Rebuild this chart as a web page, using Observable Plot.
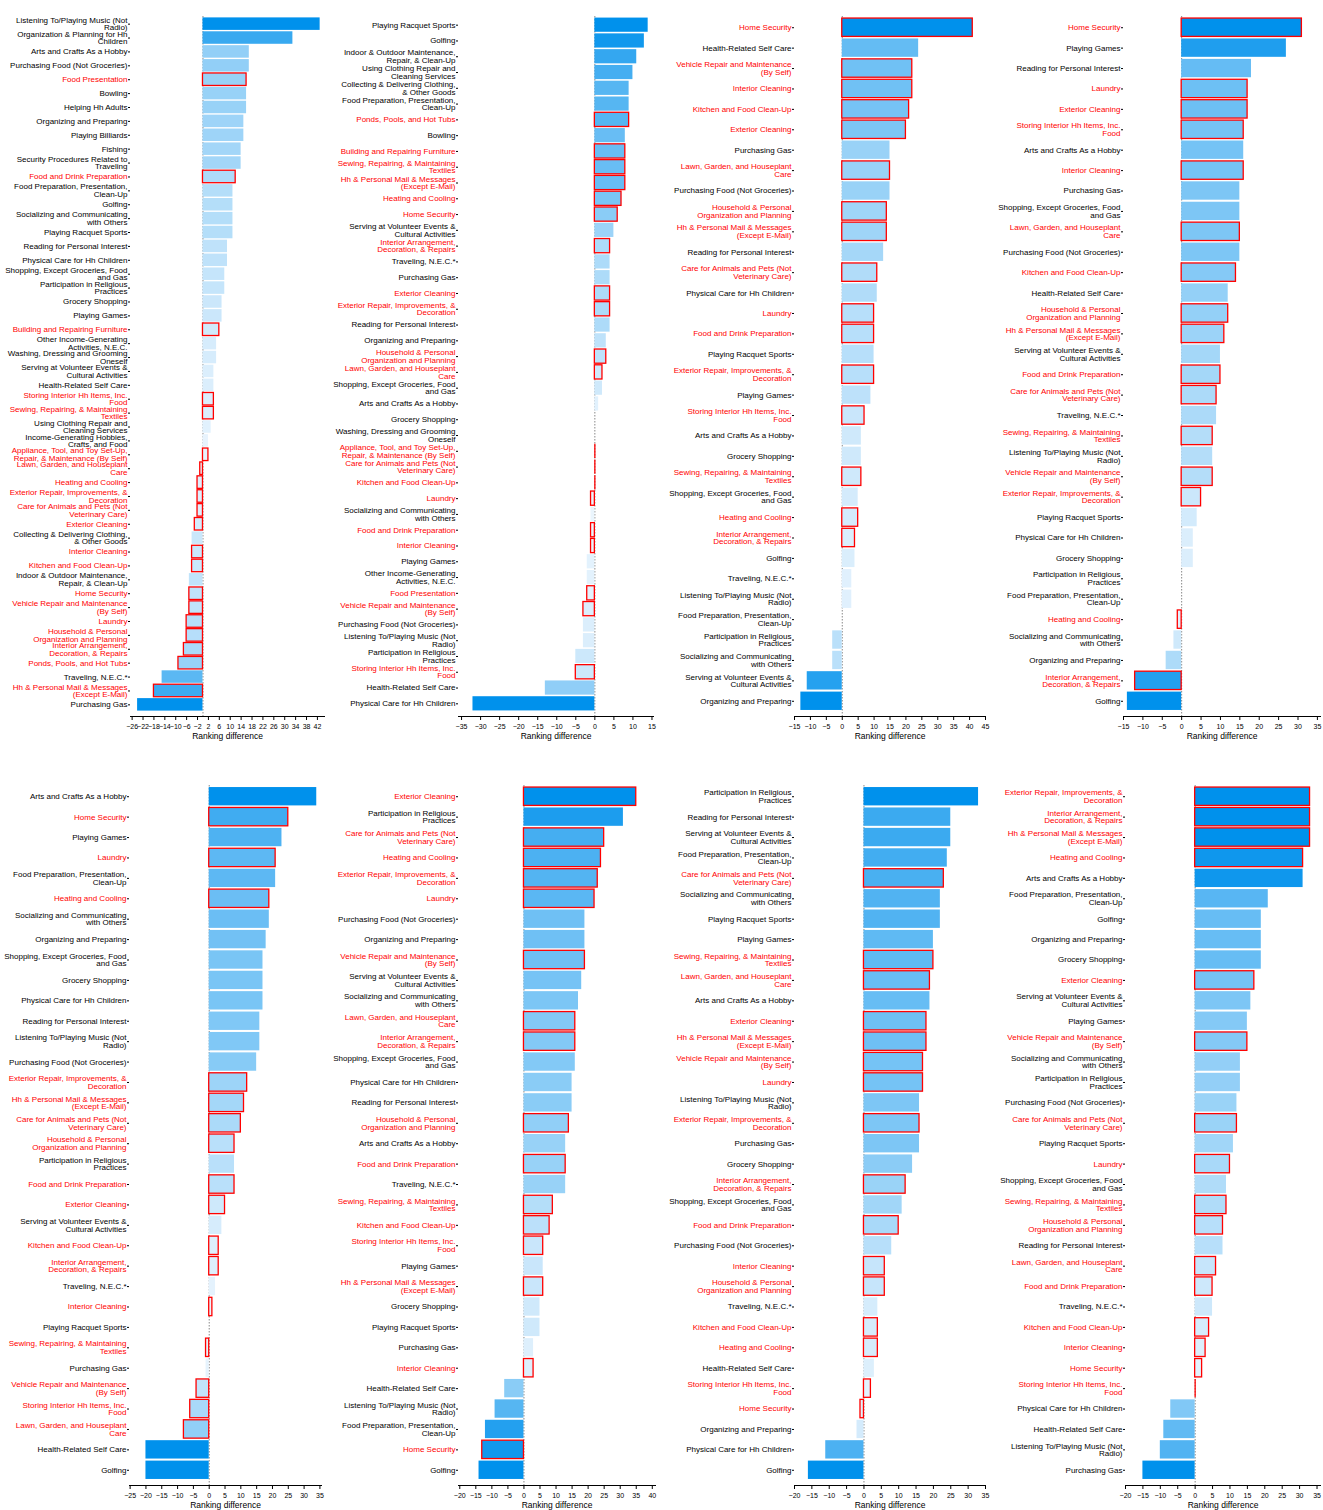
<!DOCTYPE html>
<html>
<head>
<meta charset="utf-8">
<script src="https://cdn.jsdelivr.net/npm/d3@7"></script>
<script src="https://cdn.jsdelivr.net/npm/@observablehq/plot@0.6"></script>
<style>
  body { margin: 0; background: #fff; }
  #wrap { position: relative; width: 1323px; height: 1510px; overflow: hidden; background: #fff; }
  .panel { position: absolute; }
</style>
</head>
<body>
<div id="wrap"></div>
<script>
// ---------- Household activities (drawn with red label + red outline) ----------
const householdActivities = [
  "Food Presentation", "Food and Drink Preparation", "Building and Repairing Furniture",
  "Storing Interior Hh Items, Inc. Food", "Sewing, Repairing, & Maintaining Textiles",
  "Appliance, Tool, and Toy Set-Up, Repair, & Maintenance (By Self)",
  "Lawn, Garden, and Houseplant Care", "Heating and Cooling",
  "Exterior Repair, Improvements, & Decoration", "Care for Animals and Pets (Not Veterinary Care)",
  "Exterior Cleaning", "Interior Cleaning", "Kitchen and Food Clean-Up", "Home Security",
  "Vehicle Repair and Maintenance (By Self)", "Laundry",
  "Household & Personal Organization and Planning", "Interior Arrangement, Decoration, & Repairs",
  "Ponds, Pools, and Hot Tubs", "Hh & Personal Mail & Messages (Except E-Mail)"
];

// ---------- Panel 1 ----------
const p1Names = [
  "Listening To/Playing Music (Not Radio)", "Organization & Planning for Hh Children",
  "Arts and Crafts As a Hobby", "Purchasing Food (Not Groceries)", "Food Presentation",
  "Bowling", "Helping Hh Adults", "Organizing and Preparing", "Playing Billiards", "Fishing",
  "Security Procedures Related to Traveling", "Food and Drink Preparation",
  "Food Preparation, Presentation, Clean-Up", "Golfing", "Socializing and Communicating with Others",
  "Playing Racquet Sports", "Reading for Personal Interest", "Physical Care for Hh Children",
  "Shopping, Except Groceries, Food and Gas", "Participation in Religious Practices",
  "Grocery Shopping", "Playing Games", "Building and Repairing Furniture",
  "Other Income-Generating Activities, N.E.C.", "Washing, Dressing and Grooming Oneself",
  "Serving at Volunteer Events & Cultural Activities", "Health-Related Self Care",
  "Storing Interior Hh Items, Inc. Food", "Sewing, Repairing, & Maintaining Textiles",
  "Using Clothing Repair and Cleaning Services", "Income-Generating Hobbies, Crafts, and Food",
  "Appliance, Tool, and Toy Set-Up, Repair, & Maintenance (By Self)",
  "Lawn, Garden, and Houseplant Care", "Heating and Cooling",
  "Exterior Repair, Improvements, & Decoration", "Care for Animals and Pets (Not Veterinary Care)",
  "Exterior Cleaning", "Collecting & Delivering Clothing, & Other Goods", "Interior Cleaning",
  "Kitchen and Food Clean-Up", "Indoor & Outdoor Maintenance, Repair, & Clean-Up", "Home Security",
  "Vehicle Repair and Maintenance (By Self)", "Laundry",
  "Household & Personal Organization and Planning", "Interior Arrangement, Decoration, & Repairs",
  "Ponds, Pools, and Hot Tubs", "Traveling, N.E.C.*",
  "Hh & Personal Mail & Messages (Except E-Mail)", "Purchasing Gas"
];
const p1Values = [43, 33, 17, 17, 16, 16, 16, 15, 15, 14, 14, 12, 11, 11, 11, 11, 9, 9, 8, 8, 7, 7, 6, 5, 5, 4, 4, 4, 4, 3, 2, 2,
  -1, -2, -2, -2, -3, -4, -4, -4, -5, -5, -5, -6, -6, -7, -9, -15, -18, -24];
const p1Ticks = [-26, -22, -18, -14, -10, -6, -2, 2, 6, 10, 14, 18, 22, 26, 30, 34, 38, 42];

// ---------- Panel 2 ----------
const p2Names = [
  "Playing Racquet Sports", "Golfing", "Indoor & Outdoor Maintenance, Repair, & Clean-Up",
  "Using Clothing Repair and Cleaning Services", "Collecting & Delivering Clothing, & Other Goods",
  "Food Preparation, Presentation, Clean-Up", "Ponds, Pools, and Hot Tubs", "Bowling",
  "Building and Repairing Furniture", "Sewing, Repairing, & Maintaining Textiles",
  "Hh & Personal Mail & Messages (Except E-Mail)", "Heating and Cooling", "Home Security",
  "Serving at Volunteer Events & Cultural Activities", "Interior Arrangement, Decoration, & Repairs",
  "Traveling, N.E.C.*", "Purchasing Gas", "Exterior Cleaning",
  "Exterior Repair, Improvements, & Decoration", "Reading for Personal Interest",
  "Organizing and Preparing", "Household & Personal Organization and Planning",
  "Lawn, Garden, and Houseplant Care", "Shopping, Except Groceries, Food and Gas",
  "Arts and Crafts As a Hobby", "Grocery Shopping", "Washing, Dressing and Grooming Oneself",
  "Appliance, Tool, and Toy Set-Up, Repair, & Maintenance (By Self)",
  "Care for Animals and Pets (Not Veterinary Care)", "Kitchen and Food Clean-Up", "Laundry",
  "Socializing and Communicating with Others", "Food and Drink Preparation", "Interior Cleaning",
  "Playing Games", "Other Income-Generating Activities, N.E.C.", "Food Presentation",
  "Vehicle Repair and Maintenance (By Self)", "Purchasing Food (Not Groceries)",
  "Listening To/Playing Music (Not Radio)", "Participation in Religious Practices",
  "Storing Interior Hh Items, Inc. Food", "Health-Related Self Care", "Physical Care for Hh Children"
];
const p2Values = [14, 13, 11, 10, 9, 9, 9, 8, 8, 8, 8, 7, 6, 5, 4, 4, 4, 4, 4, 4, 3, 3, 2, 2, 1, 0, 0, 0, 0, 0,
  -1, -1, -1, -1, -2, -2, -2, -3, -3, -3, -5, -5, -13, -32];
const p2Ticks = [-35, -30, -25, -20, -15, -10, -5, 0, 5, 10, 15];

// ---------- Panel 3 ----------
const p3Names = [
  "Home Security", "Health-Related Self Care", "Vehicle Repair and Maintenance (By Self)",
  "Interior Cleaning", "Kitchen and Food Clean-Up", "Exterior Cleaning", "Purchasing Gas",
  "Lawn, Garden, and Houseplant Care", "Purchasing Food (Not Groceries)",
  "Household & Personal Organization and Planning", "Hh & Personal Mail & Messages (Except E-Mail)",
  "Reading for Personal Interest", "Care for Animals and Pets (Not Veterinary Care)",
  "Physical Care for Hh Children", "Laundry", "Food and Drink Preparation", "Playing Racquet Sports",
  "Exterior Repair, Improvements, & Decoration", "Playing Games", "Storing Interior Hh Items, Inc. Food",
  "Arts and Crafts As a Hobby", "Grocery Shopping", "Sewing, Repairing, & Maintaining Textiles",
  "Shopping, Except Groceries, Food and Gas", "Heating and Cooling",
  "Interior Arrangement, Decoration, & Repairs", "Golfing", "Traveling, N.E.C.*",
  "Listening To/Playing Music (Not Radio)", "Food Preparation, Presentation, Clean-Up",
  "Participation in Religious Practices", "Socializing and Communicating with Others",
  "Serving at Volunteer Events & Cultural Activities", "Organizing and Preparing"
];
const p3Values = [41, 24, 22, 22, 21, 20, 15, 15, 15, 14, 14, 13, 11, 11, 10, 10, 10, 10, 9, 7, 6, 6, 6, 5, 5, 4, 4, 3, 3, 0, -3, -3, -11, -13];
const p3Ticks = [-15, -10, -5, 0, 5, 10, 15, 20, 25, 30, 35, 40, 45];

// ---------- Panel 4 ----------
const p4Names = [
  "Home Security", "Playing Games", "Reading for Personal Interest", "Laundry", "Exterior Cleaning",
  "Storing Interior Hh Items, Inc. Food", "Arts and Crafts As a Hobby", "Interior Cleaning",
  "Purchasing Gas", "Shopping, Except Groceries, Food and Gas", "Lawn, Garden, and Houseplant Care",
  "Purchasing Food (Not Groceries)", "Kitchen and Food Clean-Up", "Health-Related Self Care",
  "Household & Personal Organization and Planning", "Hh & Personal Mail & Messages (Except E-Mail)",
  "Serving at Volunteer Events & Cultural Activities", "Food and Drink Preparation",
  "Care for Animals and Pets (Not Veterinary Care)", "Traveling, N.E.C.*",
  "Sewing, Repairing, & Maintaining Textiles", "Listening To/Playing Music (Not Radio)",
  "Vehicle Repair and Maintenance (By Self)", "Exterior Repair, Improvements, & Decoration",
  "Playing Racquet Sports", "Physical Care for Hh Children", "Grocery Shopping",
  "Participation in Religious Practices", "Food Preparation, Presentation, Clean-Up",
  "Heating and Cooling", "Socializing and Communicating with Others", "Organizing and Preparing",
  "Interior Arrangement, Decoration, & Repairs", "Golfing"
];
const p4Values = [31, 27, 18, 17, 17, 16, 16, 16, 15, 15, 15, 15, 14, 12, 12, 11, 10, 10, 9, 9, 8, 8, 8, 5, 4, 3, 3, 0, 0, -1, -2, -4, -12, -14];
const p4Ticks = [-15, -10, -5, 0, 5, 10, 15, 20, 25, 30, 35];

// ---------- Panel 5 ----------
const p5Names = [
  "Arts and Crafts As a Hobby", "Home Security", "Playing Games", "Laundry",
  "Food Preparation, Presentation, Clean-Up", "Heating and Cooling",
  "Socializing and Communicating with Others", "Organizing and Preparing",
  "Shopping, Except Groceries, Food and Gas", "Grocery Shopping", "Physical Care for Hh Children",
  "Reading for Personal Interest", "Listening To/Playing Music (Not Radio)",
  "Purchasing Food (Not Groceries)", "Exterior Repair, Improvements, & Decoration",
  "Hh & Personal Mail & Messages (Except E-Mail)", "Care for Animals and Pets (Not Veterinary Care)",
  "Household & Personal Organization and Planning", "Participation in Religious Practices",
  "Food and Drink Preparation", "Exterior Cleaning", "Serving at Volunteer Events & Cultural Activities",
  "Kitchen and Food Clean-Up", "Interior Arrangement, Decoration, & Repairs", "Traveling, N.E.C.*",
  "Interior Cleaning", "Playing Racquet Sports", "Sewing, Repairing, & Maintaining Textiles",
  "Purchasing Gas", "Vehicle Repair and Maintenance (By Self)", "Storing Interior Hh Items, Inc. Food",
  "Lawn, Garden, and Houseplant Care", "Health-Related Self Care", "Golfing"
];
const p5Values = [34, 25, 23, 21, 21, 19, 19, 18, 17, 17, 17, 16, 16, 15, 12, 11, 10, 8, 8, 8, 5, 4, 3, 3, 2, 1, 0, -1, -1, -4, -6, -8, -20, -20];
const p5Ticks = [-25, -20, -15, -10, -5, 0, 5, 10, 15, 20, 25, 30, 35];

// ---------- Panel 6 ----------
const p6Names = [
  "Exterior Cleaning", "Participation in Religious Practices",
  "Care for Animals and Pets (Not Veterinary Care)", "Heating and Cooling",
  "Exterior Repair, Improvements, & Decoration", "Laundry", "Purchasing Food (Not Groceries)",
  "Organizing and Preparing", "Vehicle Repair and Maintenance (By Self)",
  "Serving at Volunteer Events & Cultural Activities", "Socializing and Communicating with Others",
  "Lawn, Garden, and Houseplant Care", "Interior Arrangement, Decoration, & Repairs",
  "Shopping, Except Groceries, Food and Gas", "Physical Care for Hh Children",
  "Reading for Personal Interest", "Household & Personal Organization and Planning",
  "Arts and Crafts As a Hobby", "Food and Drink Preparation", "Traveling, N.E.C.*",
  "Sewing, Repairing, & Maintaining Textiles", "Kitchen and Food Clean-Up",
  "Storing Interior Hh Items, Inc. Food", "Playing Games",
  "Hh & Personal Mail & Messages (Except E-Mail)", "Grocery Shopping", "Playing Racquet Sports",
  "Purchasing Gas", "Interior Cleaning", "Health-Related Self Care",
  "Listening To/Playing Music (Not Radio)", "Food Preparation, Presentation, Clean-Up",
  "Home Security", "Golfing"
];
const p6Values = [35, 31, 25, 24, 23, 22, 19, 19, 19, 18, 17, 16, 16, 16, 15, 15, 14, 13, 13, 13, 9, 8, 6, 6, 6, 5, 5, 3, 3, -6, -9, -12, -13, -14];
const p6Ticks = [-20, -15, -10, -5, 0, 5, 10, 15, 20, 25, 30, 35, 40];

// ---------- Panel 7 ----------
const p7Names = [
  "Participation in Religious Practices", "Reading for Personal Interest",
  "Serving at Volunteer Events & Cultural Activities", "Food Preparation, Presentation, Clean-Up",
  "Care for Animals and Pets (Not Veterinary Care)", "Socializing and Communicating with Others",
  "Playing Racquet Sports", "Playing Games", "Sewing, Repairing, & Maintaining Textiles",
  "Lawn, Garden, and Houseplant Care", "Arts and Crafts As a Hobby", "Exterior Cleaning",
  "Hh & Personal Mail & Messages (Except E-Mail)", "Vehicle Repair and Maintenance (By Self)",
  "Laundry", "Listening To/Playing Music (Not Radio)", "Exterior Repair, Improvements, & Decoration",
  "Purchasing Gas", "Grocery Shopping", "Interior Arrangement, Decoration, & Repairs",
  "Shopping, Except Groceries, Food and Gas", "Food and Drink Preparation",
  "Purchasing Food (Not Groceries)", "Interior Cleaning", "Household & Personal Organization and Planning",
  "Traveling, N.E.C.*", "Kitchen and Food Clean-Up", "Heating and Cooling", "Health-Related Self Care",
  "Storing Interior Hh Items, Inc. Food", "Home Security", "Organizing and Preparing",
  "Physical Care for Hh Children", "Golfing"
];
const p7Values = [33, 25, 25, 24, 23, 22, 22, 20, 20, 19, 19, 18, 18, 17, 17, 16, 16, 16, 14, 12, 11, 10, 8, 6, 6, 4, 4, 4, 3, 2, -1, -2, -11, -16];
const p7Ticks = [-20, -15, -10, -5, 0, 5, 10, 15, 20, 25, 30, 35];

// ---------- Panel 8 ----------
const p8Names = [
  "Exterior Repair, Improvements, & Decoration", "Interior Arrangement, Decoration, & Repairs",
  "Hh & Personal Mail & Messages (Except E-Mail)", "Heating and Cooling", "Arts and Crafts As a Hobby",
  "Food Preparation, Presentation, Clean-Up", "Golfing", "Organizing and Preparing", "Grocery Shopping",
  "Exterior Cleaning", "Serving at Volunteer Events & Cultural Activities", "Playing Games",
  "Vehicle Repair and Maintenance (By Self)", "Socializing and Communicating with Others",
  "Participation in Religious Practices", "Purchasing Food (Not Groceries)",
  "Care for Animals and Pets (Not Veterinary Care)", "Playing Racquet Sports", "Laundry",
  "Shopping, Except Groceries, Food and Gas", "Sewing, Repairing, & Maintaining Textiles",
  "Household & Personal Organization and Planning", "Reading for Personal Interest",
  "Lawn, Garden, and Houseplant Care", "Food and Drink Preparation", "Traveling, N.E.C.*",
  "Kitchen and Food Clean-Up", "Interior Cleaning", "Home Security",
  "Storing Interior Hh Items, Inc. Food", "Physical Care for Hh Children", "Health-Related Self Care",
  "Listening To/Playing Music (Not Radio)", "Purchasing Gas"
];
const p8Values = [33, 33, 33, 31, 31, 21, 19, 19, 19, 17, 16, 15, 15, 13, 13, 12, 12, 11, 10, 9, 9, 8, 8, 6, 5, 5, 4, 3, 2, 0, -7, -9, -10, -15];
const p8Ticks = [-20, -15, -10, -5, 0, 5, 10, 15, 20, 25, 30, 35];

// ---------- Tick label line breaks ----------
const labelBreaks = {
  "Listening To/Playing Music (Not Radio)": "Listening To/Playing Music (Not\nRadio)",
  "Organization & Planning for Hh Children": "Organization & Planning for Hh\nChildren",
  "Security Procedures Related to Traveling": "Security Procedures Related to\nTraveling",
  "Food Preparation, Presentation, Clean-Up": "Food Preparation, Presentation,\nClean-Up",
  "Socializing and Communicating with Others": "Socializing and Communicating\nwith Others",
  "Shopping, Except Groceries, Food and Gas": "Shopping, Except Groceries, Food\nand Gas",
  "Participation in Religious Practices": "Participation in Religious\nPractices",
  "Other Income-Generating Activities, N.E.C.": "Other Income-Generating\nActivities, N.E.C.",
  "Washing, Dressing and Grooming Oneself": "Washing, Dressing and Grooming\nOneself",
  "Serving at Volunteer Events & Cultural Activities": "Serving at Volunteer Events &\nCultural Activities",
  "Storing Interior Hh Items, Inc. Food": "Storing Interior Hh Items, Inc.\nFood",
  "Sewing, Repairing, & Maintaining Textiles": "Sewing, Repairing, & Maintaining\nTextiles",
  "Using Clothing Repair and Cleaning Services": "Using Clothing Repair and\nCleaning Services",
  "Income-Generating Hobbies, Crafts, and Food": "Income-Generating Hobbies,\nCrafts, and Food",
  "Appliance, Tool, and Toy Set-Up, Repair, & Maintenance (By Self)": "Appliance, Tool, and Toy Set-Up,\nRepair, & Maintenance (By Self)",
  "Lawn, Garden, and Houseplant Care": "Lawn, Garden, and Houseplant\nCare",
  "Exterior Repair, Improvements, & Decoration": "Exterior Repair, Improvements, &\nDecoration",
  "Care for Animals and Pets (Not Veterinary Care)": "Care for Animals and Pets (Not\nVeterinary Care)",
  "Collecting & Delivering Clothing, & Other Goods": "Collecting & Delivering Clothing,\n& Other Goods",
  "Indoor & Outdoor Maintenance, Repair, & Clean-Up": "Indoor & Outdoor Maintenance,\nRepair, & Clean-Up",
  "Vehicle Repair and Maintenance (By Self)": "Vehicle Repair and Maintenance\n(By Self)",
  "Household & Personal Organization and Planning": "Household & Personal\nOrganization and Planning",
  "Interior Arrangement, Decoration, & Repairs": "Interior Arrangement,\nDecoration, & Repairs",
  "Hh & Personal Mail & Messages (Except E-Mail)": "Hh & Personal Mail & Messages\n(Except E-Mail)"
};

// ---------- Panels & page layout ----------
const panels = [
  {names: p1Names, values: p1Values, ticks: p1Ticks, domain: [-26.6, 44.6]},
  {names: p2Names, values: p2Values, ticks: p2Ticks, domain: [-35.8, 15.4]},
  {names: p3Names, values: p3Values, ticks: p3Ticks, domain: [-15, 45]},
  {names: p4Names, values: p4Values, ticks: p4Ticks, domain: [-15, 35.8]},
  {names: p5Names, values: p5Values, ticks: p5Ticks, domain: [-25.2, 35.5]},
  {names: p6Names, values: p6Values, ticks: p6Ticks, domain: [-20.4, 41]},
  {names: p7Names, values: p7Values, ticks: p7Ticks, domain: [-20, 35]},
  {names: p8Names, values: p8Values, ticks: p8Ticks, domain: [-20, 36]}
];
const layout = [
  {left: 0,   top: 0,   w: 330, ml: 130, mr: 6},
  {left: 330, top: 0,   w: 330, ml: 128, mr: 7},
  {left: 661, top: 0,   w: 330, ml: 133, mr: 6},
  {left: 992, top: 0,   w: 331, ml: 131, mr: 3},
  {left: 0,   top: 769, w: 330, ml: 129, mr: 9},
  {left: 330, top: 769, w: 330, ml: 128, mr: 5},
  {left: 661, top: 769, w: 330, ml: 133, mr: 6},
  {left: 992, top: 769, w: 331, ml: 133, mr: 3}
];

const household = new Set(householdActivities);
const light = "#f2f8fe", dark = "#0091ec";
const wrapEl = document.getElementById("wrap");

panels.forEach((p, i) => {
  const L = layout[i];
  const maxPos = d3.max(p.values), minNeg = d3.min(p.values);
  const interp = d3.interpolateRgb(light, dark);
  const rows = p.names.map((name, j) => {
    const v = p.values[j];
    const t = v >= 0 ? (maxPos > 0 ? v / maxPos : 0) : v / minNeg;
    return {name, value: v, household: household.has(name), color: interp(t)};
  });
  const hh = rows.filter(d => d.household);
  const chart = Plot.plot({
    width: L.w,
    height: 742,
    marginTop: 16,
    marginBottom: 26,
    marginLeft: L.ml,
    marginRight: L.mr,
    style: {fontFamily: "'Liberation Sans', Arial, Helvetica, sans-serif", fontSize: "8px", color: "#000", background: "#fff", overflow: "visible"},
    x: {domain: p.domain, label: null},
    y: {domain: p.names, padding: 0.1, insetBottom: 4, round: false, label: null},
    color: {type: "identity"},
    marks: [
      Plot.ruleX([0], {stroke: "#888", strokeDasharray: "1.5,1.5", strokeWidth: 1}),
      Plot.barX(rows, {y: "name", x: "value", fill: "color"}),
      Plot.barX(hh, {y: "name", x: "value", fill: "none", stroke: "#f00", strokeWidth: 1.3}),
      Plot.tickX(hh.filter(d => d.value === 0), {y: "name", x: "value", stroke: "#f00", strokeWidth: 1.3}),
      Plot.text(rows, {
        y: "name",
        text: d => labelBreaks[d.name] || d.name,
        frameAnchor: "left",
        textAnchor: "end",
        dx: -3,
        lineHeight: 0.95,
        fontSize: 8,
        fill: d => d.household ? "#f00" : "#000"
      }),
      Plot.axisY({tickSize: 2, tickFormat: () => "", label: null}),
      Plot.axisX({ticks: p.ticks, tickSize: 4, tickPadding: 4, fontSize: 7, label: null}),
      Plot.frame({anchor: "bottom"}),
      Plot.text(["Ranking difference"], {frameAnchor: "bottom", text: d => d, dy: 22, fontSize: 8.5})
    ]
  });
  const div = document.createElement("div");
  div.className = "panel";
  div.style.left = L.left + "px";
  div.style.top = L.top + "px";
  div.appendChild(chart);
  wrapEl.appendChild(div);
});
</script>
</body>
</html>
